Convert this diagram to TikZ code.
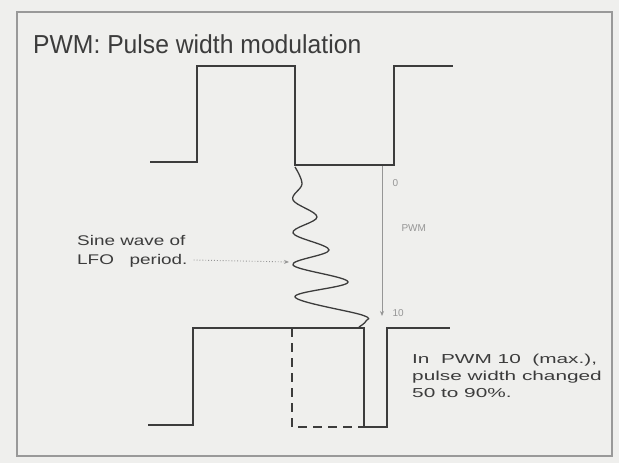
\documentclass[tikz,border=0pt]{standalone}
\usepackage{fontspec}
\setmainfont{Liberation Sans}
\newfontfamily\titlefont[FakeStretch=0.95]{Liberation Sans}
\newfontfamily\notefont[FakeStretch=1.35]{Liberation Sans}
\newfontfamily\widefont[FakeStretch=1.6]{Liberation Sans}
\usetikzlibrary{arrows.meta}
\definecolor{paper}{RGB}{239,239,237}
\definecolor{ink}{RGB}{60,60,60}
\definecolor{faint}{RGB}{150,150,150}

\begin{document}
\begin{tikzpicture}[
                x={(1pt,0pt)}, y={(0pt,-1pt)},
                wave/.style={draw=ink, line width=2.4pt, line join=miter},
                sine/.style={draw=ink, line width=1.3pt},
                note/.style={text=ink, align=left, inner sep=0pt,
                    font=\notefont\fontsize{14}{19}\selectfont} ]

            \useasboundingbox (0,0) rectangle (619,463);
            \fill[paper] (0,0) rectangle (619,463);
            \draw[gray!80, line width=1.6pt] (17,12) rectangle (612,456);

            \node[anchor=base west, inner sep=0pt, text=ink,
                font=\titlefont\fontsize{26}{26}\selectfont] (title) at (33,53)
                {PWM: Pulse width modulation};

            % upper pulse train
            \draw[wave] (150,162) -- (197,162) -- (197,66) -- (295,66)
                -- (295,165) -- (394,165) -- (394,66) -- (453,66);

            % lower pulse train
            \draw[wave] (148,425) -- (193,425) -- (193,328) -- (364,328)
                -- (364,427) -- (387,427) -- (387,328) -- (450,328);
            \draw[wave, dashed, dash pattern=on 9pt off 6pt]
                (292,328) -- (292,427) -- (364,427);

            % LFO sine wave
            \draw[sine] plot[smooth, tension=0.6] coordinates {
                    (295,167) (302,184) (293,200) (317,217) (293,233)
                    (329,250) (293,265) (348,282) (295,297) (362,315)
                    (366,321) (359,327)
                };

            % modulation depth marker
            \coordinate (top0) at (382,166);
            \coordinate (bot10) at (382,316);
            \draw[faint, line width=0.8pt, -{Stealth[length=5pt, width=4pt]}] (top0) -- (bot10);
            \node[faint, font=\fontsize{10}{10}\selectfont, anchor=west] (lab0) at (389,183) {0};
            \node[faint, font=\fontsize{10}{10}\selectfont, anchor=west] (labpwm) at (398,228) {PWM};
            \node[faint, font=\fontsize{10}{10}\selectfont, anchor=west] (lab10) at (389,313) {10};

            % annotations
            \node[note, anchor=north west] (lfo) at (77,235) {Sine wave of\\LFO\ \ \ period.};
            \coordinate (V) at (289,262);
            \draw[faint, line width=0.9pt, dotted, -{Stealth[length=5pt, width=4pt]}]
                (lfo.east |- V) ++(6,-2) -- (V);

            \node[note, anchor=north west, font=\widefont\fontsize{13}{17}\selectfont]
                (depth) at (412,354) {In\ \ PWM\ 10\ \ (max.),\\pulse width changed\\50 to 90\%.};

        \end{tikzpicture}
\end{document}
